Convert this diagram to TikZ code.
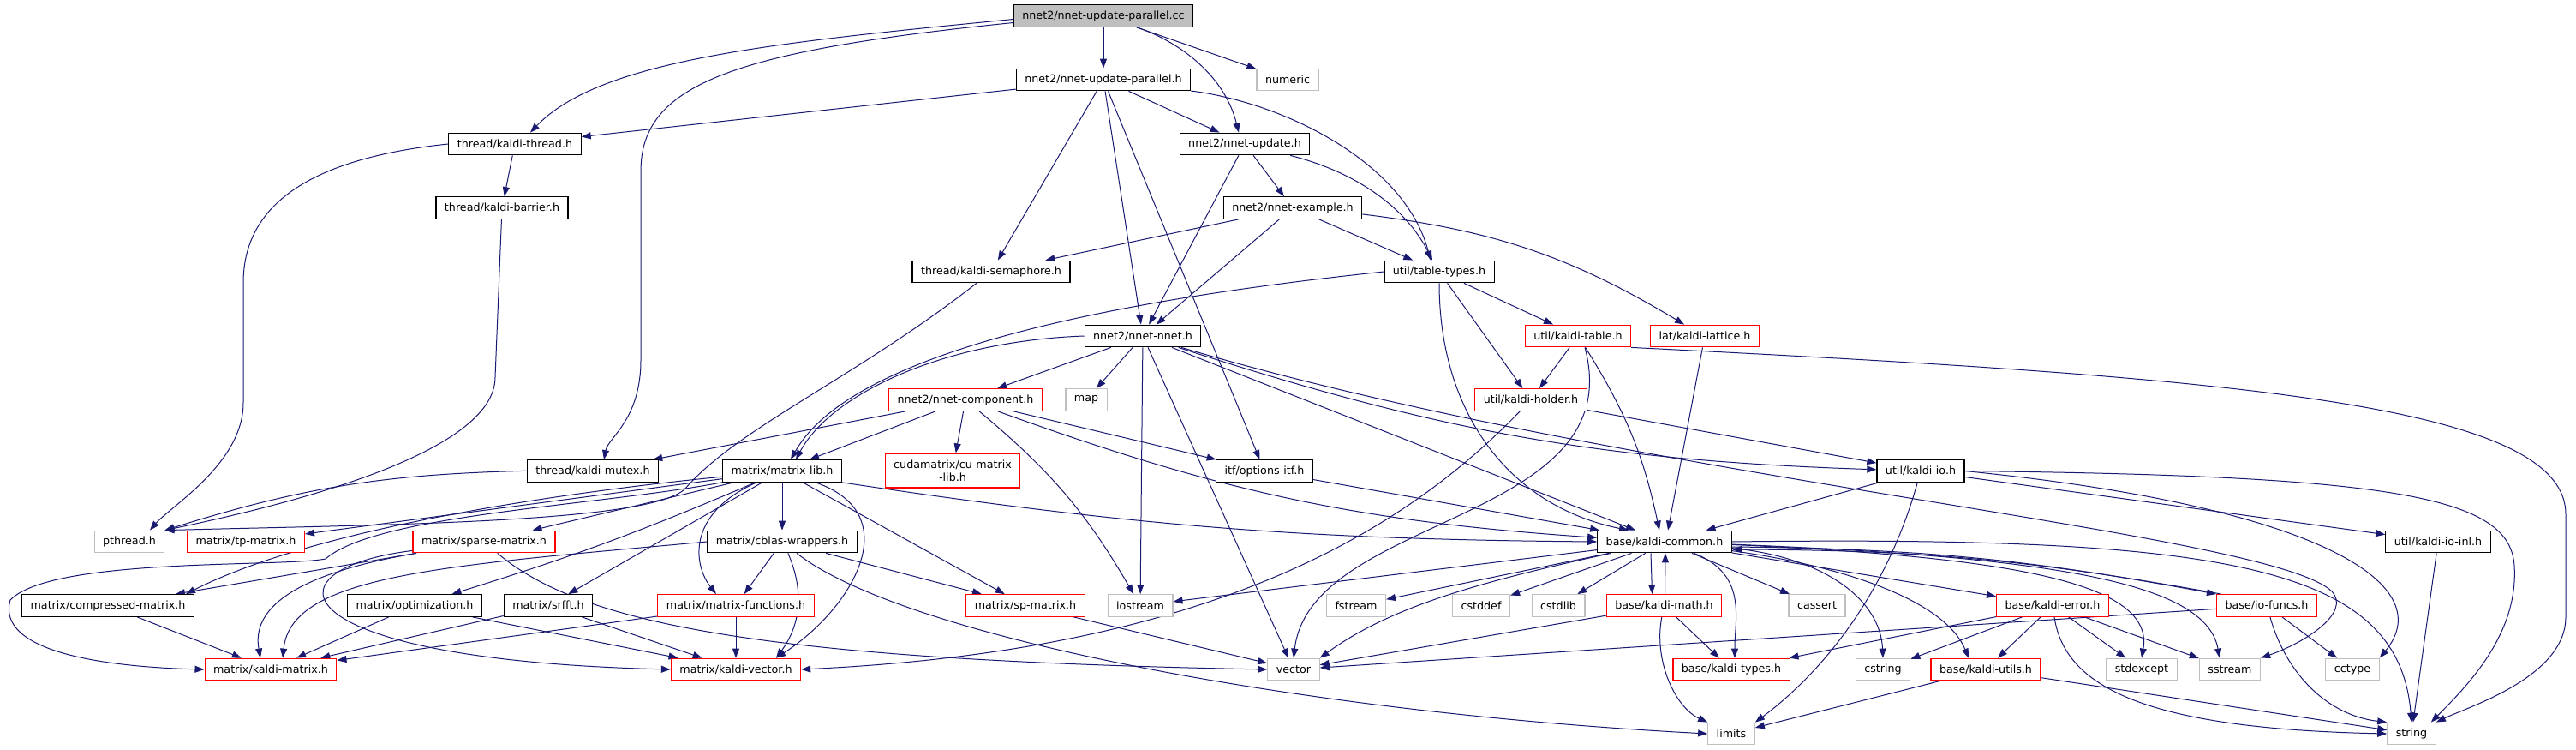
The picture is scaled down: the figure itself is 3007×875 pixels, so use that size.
\documentclass[tikz,border=0pt]{standalone}
\usepackage{fontspec}
\setmainfont{DejaVu Sans}
\usetikzlibrary{arrows.meta,backgrounds}
\definecolor{edgeblue}{HTML}{191970}
\definecolor{sysgray}{HTML}{BFBFBF}
\definecolor{cutred}{HTML}{FF0000}
\definecolor{rootgray}{HTML}{BFBFBF}
\tikzset{
  hdr/.style={
    draw=black,
    fill=white,
    line width=1.2pt,
    minimum height=25.6pt,
    inner xsep=10pt,
    inner ysep=2pt,
    align=center,
    font=\fontsize{12.7}{15}\selectfont
  },
  syshdr/.style={hdr,draw=sysgray},
  cuthdr/.style={hdr,draw=cutred},
  rootfile/.style={hdr,fill=rootgray},
  incl/.style={-{Triangle[length=11pt,width=8pt]},draw=edgeblue,line width=1pt}
}

\begin{document}
\begin{tikzpicture}[x=1pt,y=-1pt]
  \useasboundingbox (0,0) rectangle (3007,875);

  \node[rootfile] (cc) at (1288,18.5) {nnet2/nnet-update-parallel.cc};
  \node[hdr] (par) at (1288,93) {nnet2/nnet-update-parallel.h};
  \node[syshdr] (numeric) at (1503,93) {numeric};
  \node[hdr] (thread) at (601,168) {thread/kaldi-thread.h};
  \node[hdr] (update) at (1453,168) {nnet2/nnet-update.h};
  \node[hdr] (barrier) at (586,242.5) {thread/kaldi-barrier.h};
  \node[hdr] (example) at (1509,242.5) {nnet2/nnet-example.h};
  \node[hdr] (semaphore) at (1157,317) {thread/kaldi-semaphore.h};
  \node[hdr] (tabletypes) at (1680,317) {util/table-types.h};
  \node[hdr] (nnet) at (1334,392) {nnet2/nnet-nnet.h};
  \node[cuthdr] (table) at (1842,392) {util/kaldi-table.h};
  \node[cuthdr] (lattice) at (1990,392) {lat/kaldi-lattice.h};
  \node[cuthdr] (component) at (1127,466.5) {nnet2/nnet-component.h};
  \node[syshdr] (map) at (1268,466.5) {map};
  \node[cuthdr] (holder) at (1787,466.5) {util/kaldi-holder.h};
  \node[hdr] (mutex) at (692,549.5) {thread/kaldi-mutex.h};
  \node[hdr] (matrixlib) at (913,549.5) {matrix/matrix-lib.h};
  \node[cuthdr,minimum height=40pt] (cumatrix) at (1112,549) {cudamatrix/cu-matrix\\-lib.h};
  \node[hdr] (options) at (1476,549.5) {itf/options-itf.h};
  \node[hdr] (kaldiio) at (2242,549.5) {util/kaldi-io.h};
  \node[syshdr] (pthread) at (151,632) {pthread.h};
  \node[cuthdr] (tpmatrix) at (287,632) {matrix/tp-matrix.h};
  \node[cuthdr] (sparse) at (565,632) {matrix/sparse-matrix.h};
  \node[hdr] (cblas) at (913,632) {matrix/cblas-wrappers.h};
  \node[hdr] (common) at (1943,632) {base/kaldi-common.h};
  \node[hdr] (ioinl) at (2846,632) {util/kaldi-io-inl.h};
  \node[hdr] (compressed) at (126,706.5) {matrix/compressed-matrix.h};
  \node[hdr] (optimization) at (484,706.5) {matrix/optimization.h};
  \node[hdr] (srfft) at (640,706.5) {matrix/srfft.h};
  \node[cuthdr] (functions) at (859,706.5) {matrix/matrix-functions.h};
  \node[cuthdr] (spmatrix) at (1197,706.5) {matrix/sp-matrix.h};
  \node[syshdr] (iostream) at (1331,706.5) {iostream};
  \node[syshdr] (fstream) at (1583,706.5) {fstream};
  \node[syshdr] (cstddef) at (1729,706.5) {cstddef};
  \node[syshdr] (cstdlib) at (1819,706.5) {cstdlib};
  \node[cuthdr] (kmath) at (1942.5,706.5) {base/kaldi-math.h};
  \node[syshdr] (cassert) at (2121,706.5) {cassert};
  \node[cuthdr] (kerror) at (2396,706.5) {base/kaldi-error.h};
  \node[cuthdr] (iofuncs) at (2646,706.5) {base/io-funcs.h};
  \node[cuthdr] (kmatrix) at (316,781) {matrix/kaldi-matrix.h};
  \node[cuthdr] (kvector) at (859,781) {matrix/kaldi-vector.h};
  \node[syshdr] (vector) at (1510,781) {vector};
  \node[cuthdr] (ktypes) at (2021,781) {base/kaldi-types.h};
  \node[syshdr] (cstring) at (2198,781) {cstring};
  \node[cuthdr] (kutils) at (2318,781) {base/kaldi-utils.h};
  \node[syshdr] (stdexcept) at (2500,781) {stdexcept};
  \node[syshdr] (sstream) at (2603,781) {sstream};
  \node[syshdr] (cctype) at (2746,781) {cctype};
  \node[syshdr] (limits) at (2021,856) {limits};
  \node[syshdr] (string) at (2815,856) {string};

  \begin{scope}[on background layer]
    \draw[incl] (cc) -- (par);
    \draw[incl] (cc) .. controls (1380,50) and (1430,90) .. ([xshift=-7pt]update.north);
    \draw[incl] (cc) -- (numeric);
    \draw[incl] ([yshift=-4pt]cc.west) .. controls (900,50) and (700,70) .. ([xshift=18pt]thread.north);
    \draw[incl] ([yshift=-8pt]cc.west) .. controls (850,60) and (748,100) .. (748,200)
      -- (748,420) .. controls (748,490) and (710,510) .. ([xshift=13pt]mutex.north);

    \draw[incl] (par) -- (thread);
    \draw[incl] (par) -- (update);
    \draw[incl] (par) -- (semaphore);
    \draw[incl] (par) -- (nnet);
    \draw[incl] (par) -- (options);
    \draw[incl] (par) .. controls (1500,120) and (1640,190) .. ([xshift=-10pt]tabletypes.north);

    \draw[incl] (thread) -- (barrier);
    \draw[incl] (thread.west) .. controls (360,185) and (284,240) .. (284,330)
      -- (284,470) .. controls (284,540) and (200,590) .. ([xshift=24pt]pthread.north);
    \draw[incl] (barrier) -- (578,440) .. controls (578,530) and (330,590) .. (pthread.north east);
    \draw[incl] (mutex) to[bend right=8] (pthread.north east);
    \draw[incl] (semaphore) .. controls (1000,440) and (860,500) .. (800,570)
      .. controls (760,610) and (450,612) .. (pthread.north east);

    \draw[incl] (update) -- (example);
    \draw[incl] (update) -- (nnet);
    \draw[incl] (update) .. controls (1580,200) and (1640,240) .. ([xshift=-8pt]tabletypes.north);

    \draw[incl] (example) -- (semaphore);
    \draw[incl] (example) -- (nnet);
    \draw[incl] (example) -- (tabletypes);
    \draw[incl] (example) to[bend left=12] (lattice);

    \draw[incl] (tabletypes.west) .. controls (1350,345) and (1000,400) .. ([xshift=10pt]matrixlib.north);
    \draw[incl] (tabletypes) -- (table);
    \draw[incl] (tabletypes) -- (holder);
    \draw[incl] (tabletypes) .. controls (1680,480) and (1760,590) .. ([xshift=-42pt]common.north);

    \draw[incl] (table) -- (holder);
    \draw[incl] (table) to[bend left=10] ([xshift=-6pt]common.north);
    \draw[incl] (table.south east) .. controls (2600,440) and (2995,470) .. (2995,600)
      -- (2995,720) .. controls (2995,790) and (2880,825) .. (string.north east);
    \draw[incl] ([xshift=8pt]table.south) .. controls (1905,610) and (1530,600) .. (vector.north);
    \draw[incl] (lattice) -- ([xshift=4pt]common.north);

    \draw[incl] (nnet) -- (component);
    \draw[incl] (nnet) -- (map);
    \draw[incl] (nnet) -- (iostream);
    \draw[incl] (nnet) -- (vector);
    \draw[incl] (nnet.west) .. controls (1100,398) and (970,460) .. ([xshift=16pt]matrixlib.north);
    \draw[incl] (nnet) -- (common);
    \draw[incl] (nnet) to[bend right=8] (kaldiio);
    \draw[incl] (nnet) .. controls (1900,560) and (2650,620) .. (2722,690)
      .. controls (2745,715) and (2690,750) .. (sstream.north east);

    \draw[incl] (component) -- ([xshift=32pt]matrixlib.north);
    \draw[incl] (component) -- (cumatrix);
    \draw[incl] (component) -- (mutex);
    \draw[incl] (component) -- (options);
    \draw[incl] (component) to[bend left=10] (iostream);
    \draw[incl] (component) to[bend right=8] (common);

    \draw[incl] (matrixlib) -- (tpmatrix);
    \draw[incl] (matrixlib) -- (sparse);
    \draw[incl] (matrixlib) .. controls (700,570) and (380,610) .. ([xshift=-10pt]compressed.north east);
    \draw[incl] (matrixlib) .. controls (700,590) and (440,600) .. (380,652)
      .. controls (330,662) and (60,650) .. (12,700)
      .. controls (-5,760) and (120,778) .. (kmatrix.west);
    \draw[incl] (matrixlib) to[bend left=3] (optimization);
    \draw[incl] (matrixlib) -- (srfft);
    \draw[incl] (matrixlib) .. controls (800,600) and (810,660) .. ([xshift=-23pt]functions.north);
    \draw[incl] (matrixlib) -- (cblas);
    \draw[incl] (matrixlib) .. controls (1060,600) and (995,710) .. ([xshift=47pt]kvector.north);
    \draw[incl] (matrixlib) -- (spmatrix);
    \draw[incl] (matrixlib.south east) to[bend right=4] (common.west);

    \draw[incl] (cblas.west) .. controls (520,660) and (340,670) .. ([xshift=14pt]kmatrix.north);
    \draw[incl] (cblas) -- (functions);
    \draw[incl] (cblas) to[bend left=30] ([xshift=47pt]kvector.north);
    \draw[incl] (cblas) -- (spmatrix);
    \draw[incl] (cblas) .. controls (1050,740) and (1500,830) .. (limits.west);

    \draw[incl] (sparse) -- (compressed);
    \draw[incl] (sparse) .. controls (400,660) and (290,690) .. ([xshift=-12pt]kmatrix.north);
    \draw[incl] (sparse) .. controls (300,665) and (330,770) .. (kvector.west);
    \draw[incl] (sparse) .. controls (680,730) and (900,770) .. (vector.west);

    \draw[incl] (optimization) -- (kmatrix);
    \draw[incl] (optimization) -- (kvector);
    \draw[incl] (srfft) -- (kmatrix);
    \draw[incl] (srfft) -- (kvector);
    \draw[incl] (functions) -- (kmatrix);
    \draw[incl] (functions) -- (kvector);
    \draw[incl] (compressed) -- (kmatrix);
    \draw[incl] (spmatrix) -- (vector);

    \draw[incl] (holder) .. controls (1620,640) and (1380,760) .. (kvector.east);
    \draw[incl] (holder) -- (kaldiio);
    \draw[incl] (options) -- (common);

    \draw[incl] (kaldiio) -- (common);
    \draw[incl] (kaldiio) .. controls (2200,700) and (2120,790) .. (limits.north east);
    \draw[incl] (kaldiio.east) .. controls (2700,590) and (2850,680) .. (cctype.north east);
    \draw[incl] (kaldiio) -- (ioinl);
    \draw[incl] (kaldiio.east) .. controls (2800,555) and (2930,580) .. (2935,660)
      .. controls (2940,740) and (2880,800) .. ([xshift=-6pt]string.north east);
    \draw[incl] (ioinl) -- (string);

    \draw[incl] (common) -- (cstddef);
    \draw[incl] (common) -- (cstdlib);
    \draw[incl] ([xshift=-16pt]common.south) -- ([xshift=-14pt]kmath.north);
    \draw[incl] ([xshift=1pt]kmath.north) -- ([xshift=1pt]common.south);
    \draw[incl] (common) -- (cassert);
    \draw[incl] (common) -- (kerror);
    \draw[incl] ([yshift=-6pt]common.east) to[bend left=5] (iofuncs.north west);
    \draw[incl] ([xshift=6pt]iofuncs.north west) to[bend right=5] ([yshift=-9pt]common.east);
    \draw[incl] (common) .. controls (2350,650) and (2515,680) .. (stdexcept.north);
    \draw[incl] (common) .. controls (2400,650) and (2575,680) .. ([xshift=-12pt]sstream.north);
    \draw[incl] (common.east) .. controls (2600,625) and (2800,660) .. (string.north);
    \draw[incl] (common) .. controls (2130,650) and (2195,700) .. (cstring.north);
    \draw[incl] (common) .. controls (2150,660) and (2270,700) .. ([xshift=-20pt]kutils.north);
    \draw[incl] (common) .. controls (2040,670) and (2025,720) .. ([xshift=4pt]ktypes.north);
    \draw[incl] (common) .. controls (1720,680) and (1620,710) .. (vector.north east);
    \draw[incl] (common) -- (iostream);
    \draw[incl] (common) -- (fstream);

    \draw[incl] (kmath) -- (ktypes);
    \draw[incl] (kmath) -- (vector);
    \draw[incl] (kmath) .. controls (1930,770) and (1955,825) .. (limits.north west);

    \draw[incl] (kerror) -- (ktypes);
    \draw[incl] (kerror) -- (cstring);
    \draw[incl] (kerror) -- (kutils);
    \draw[incl] (kerror) -- (stdexcept);
    \draw[incl] (kerror) -- (sstream);
    \draw[incl] (kerror) .. controls (2410,800) and (2500,850) .. (string.west);

    \draw[incl] (iofuncs) -- (vector);
    \draw[incl] (iofuncs) -- (cctype);
    \draw[incl] (iofuncs) .. controls (2670,790) and (2720,835) .. (string.north west);

    \draw[incl] (kutils) -- (limits);
    \draw[incl] (kutils) -- (string);
  \end{scope}
\end{tikzpicture}
\end{document}
